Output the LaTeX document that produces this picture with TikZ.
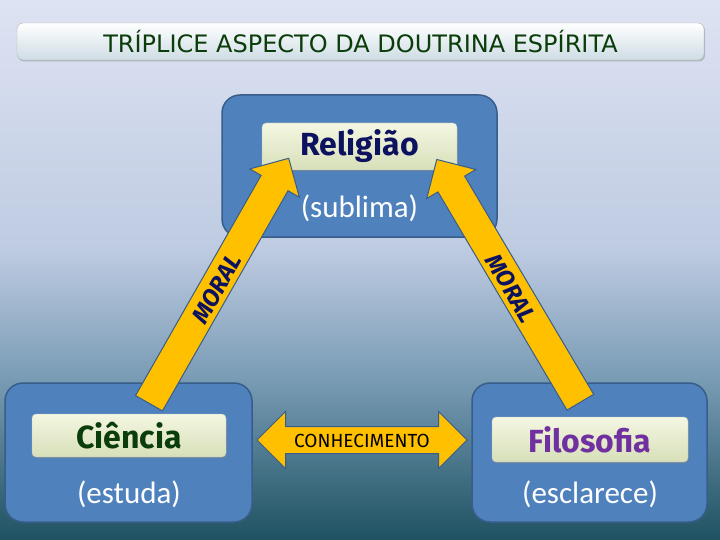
\documentclass[tikz,border=0pt]{standalone}
\usepackage{fontspec}
\setmainfont{Carlito}
\newfontfamily\labfont{Fira Sans}
\newfontfamily\titfont{DejaVu Sans}
\usetikzlibrary{shapes.arrows,shadows}
\definecolor{bluebox}{HTML}{4F81BD}
\definecolor{blueedge}{HTML}{385D8A}
\definecolor{arrowfill}{HTML}{FFC000}
\definecolor{cream1}{HTML}{F4F7E2}
\definecolor{cream2}{HTML}{D7DFB9}
\definecolor{dgreen}{HTML}{0B3D0B}
\definecolor{navy}{HTML}{0D1260}
\definecolor{purp}{HTML}{7030A0}
\tikzset{
  panel/.style={draw=blueedge,line width=1.5pt,fill=bluebox,rounded corners=18pt},
  labelbox/.style={draw=gray!50,top color=cream1,bottom color=cream2,rounded corners=4pt,drop shadow={opacity=0.4,shadow xshift=1pt,shadow yshift=-1.5pt}},
  subtext/.style={text=white,font=\fontsize{31}{34}\selectfont},
  bigarrow/.style={single arrow,draw=blueedge,line width=1pt,fill=arrowfill,inner xsep=0pt,inner ysep=5pt,text height=20pt,text depth=0pt,single arrow head extend=13pt,minimum height=282pt,font=\labfont\bfseries\itshape\fontsize{24}{24}\selectfont,text=navy}
}
\begin{document}
\begin{tikzpicture}[x=1pt,y=-1pt]
\shade[top color={rgb,255:red,222;green,227;blue,243}, bottom color={rgb,255:red,190;green,203;blue,225}] (0,0) rectangle (720,250);
\shade[top color={rgb,255:red,190;green,203;blue,225}, bottom color={rgb,255:red,120;green,155;blue,180}] (0,250) rectangle (720,380);
\shade[top color={rgb,255:red,120;green,155;blue,180}, bottom color={rgb,255:red,30;green,82;blue,98}] (0,380) rectangle (720,540);
\useasboundingbox (0,0) rectangle (720,540);
% title
\node[draw=gray!60,top color=white,bottom color={rgb,255:red,205;green,220;blue,228},rounded corners=6pt,minimum width=687pt,minimum height=37pt,drop shadow={opacity=0.4,shadow xshift=1pt,shadow yshift=-1.5pt},text=dgreen,font=\titfont\fontsize{24}{26}\selectfont] (title) at (360.5,41.5) {TRÍPLICE ASPECTO DA DOUTRINA ESPÍRITA};
% panels
\draw[panel] (222,95) rectangle (497,237);
\draw[panel] (5,383) rectangle (252,522);
\draw[panel] (472,383) rectangle (707,522);
\node[labelbox,minimum width=195pt,minimum height=47pt,text=navy,font=\labfont\bfseries\fontsize{32}{34}\selectfont] (rel) at (359.5,146.5) {Religião};
\node[subtext] (sub) at (359.5,208) {(sublima)};
\node[labelbox,minimum width=194pt,minimum height=43pt,text=dgreen,font=\labfont\bfseries\fontsize{32}{34}\selectfont] (cie) at (129,435.5) {Ciência};
\node[subtext] (est) at (129,494) {(estuda)};
\node[labelbox,minimum width=196pt,minimum height=45pt,text=purp,font=\labfont\bfseries\fontsize{32}{34}\selectfont] (fil) at (590,439.5) {Filosofia};
\node[subtext] (esc) at (590,494) {(esclarece)};
% arrows
\node[bigarrow,rotate=60.3] (moralL) at (215,287.5) {MORAL};
\node[bigarrow,rotate=-59.4,shape border rotate=180] (moralR) at (512.5,287.5) {MORAL};
\node[double arrow,draw=blueedge,line width=1pt,fill=arrowfill,minimum height=210pt,inner xsep=0pt,inner ysep=6pt,text height=14pt,text depth=0pt,double arrow head extend=15pt,font=\labfont\fontsize{19}{19}\selectfont] (con) at (362,440) {CONHECIMENTO};
\end{tikzpicture}
\end{document}
